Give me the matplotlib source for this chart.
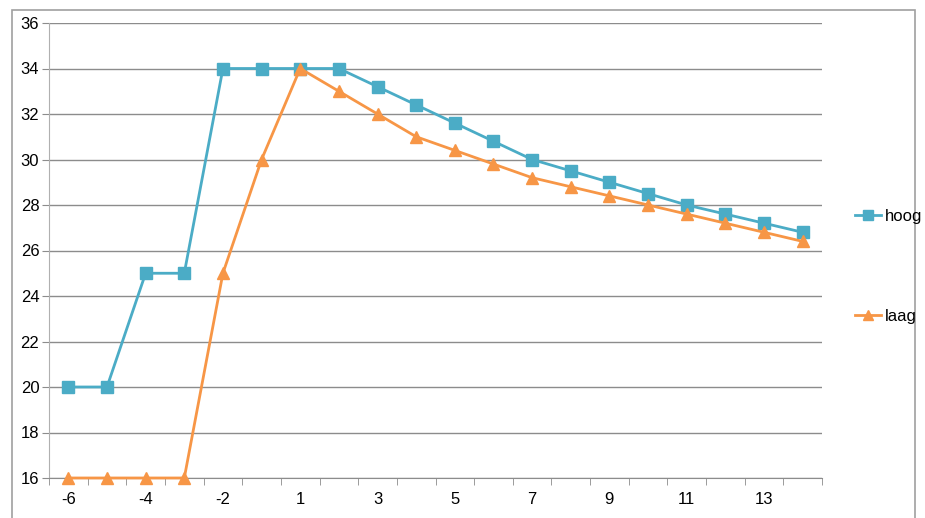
import matplotlib
matplotlib.use("Agg")
import matplotlib.pyplot as plt
from matplotlib.patches import Rectangle
from matplotlib.lines import Line2D

categories = ["-6", "-5", "-4", "-3", "-2", "-1", "1", "2", "3", "4", "5", "6", "7", "8", "9", "10", "11", "12", "13", "14"]
hoog = [20, 20, 25, 25, 34, 34, 34, 34, 33.2, 32.4, 31.6, 30.8, 30, 29.5, 29, 28.5, 28, 27.6, 27.2, 26.8]
laag = [16, 16, 16, 16, 25, 30, 34, 33, 32, 31, 30.4, 29.8, 29.2, 28.8, 28.4, 28, 27.6, 27.2, 26.8, 26.4]
y_ticks = [16, 18, 20, 22, 24, 26, 28, 30, 32, 34, 36]

plt.rcParams['font.family'] = ['Liberation Sans', 'DejaVu Sans']

fig = plt.figure(figsize=(9.25, 5.18), dpi=100)
fig.patches.append(Rectangle((12/925, -0.01), (915-12)/925, 1 - 10/518 + 0.01,
                             transform=fig.transFigure, fill=False, edgecolor='#a0a0a0', lw=1.2))
ax = fig.add_axes([49/925, 1-478/518, (822-49)/925, (478-23)/518])

x = list(range(len(categories)))
c_hoog = '#4BACC6'
c_laag = '#F79646'
ax.plot(x, hoog, color=c_hoog, lw=2, marker='s', ms=8, label='hoog', zorder=3, clip_on=False)
ax.plot(x, laag, color=c_laag, lw=2, marker='^', ms=8, label='laag', zorder=3, clip_on=False)

ax.set_xlim(-0.5, len(categories) - 0.5)
ax.set_ylim(16, 36)
ax.set_yticks(y_ticks)
ax.set_yticklabels([str(v) for v in y_ticks], fontsize=12)
ax.yaxis.grid(True, color='#8c8c8c', lw=1)
ax.set_axisbelow(True)

ax.set_xticks([i for i in x[::2]])
ax.set_xticklabels(categories[::2], fontsize=12)
ax.tick_params(axis='x', length=0, pad=10)
ax.set_xticks([i - 0.5 for i in range(len(categories) + 1)], minor=True)
ax.tick_params(axis='x', which='minor', length=5, color='#8c8c8c', direction='out')
ax.tick_params(axis='y', length=5, color='#8c8c8c', direction='out', pad=2)

for s in ['top', 'right']:
    ax.spines[s].set_visible(False)
ax.spines['left'].set_color('#b0b0b0')
ax.spines['bottom'].set_color('#8c8c8c')

handles = [Line2D([0], [0], color=c_hoog, lw=2, marker='s', ms=7),
           Line2D([0], [0], color=c_laag, lw=2, marker='^', ms=7)]
fig.legend(handles, ['hoog', 'laag'], loc='center left', bbox_to_anchor=(848/925, 1 - 266/518),
           frameon=False, fontsize=12, labelspacing=5.1, handlelength=1.6, handletextpad=0.2,
           borderaxespad=0)

fig.savefig('out.png', dpi=100)
